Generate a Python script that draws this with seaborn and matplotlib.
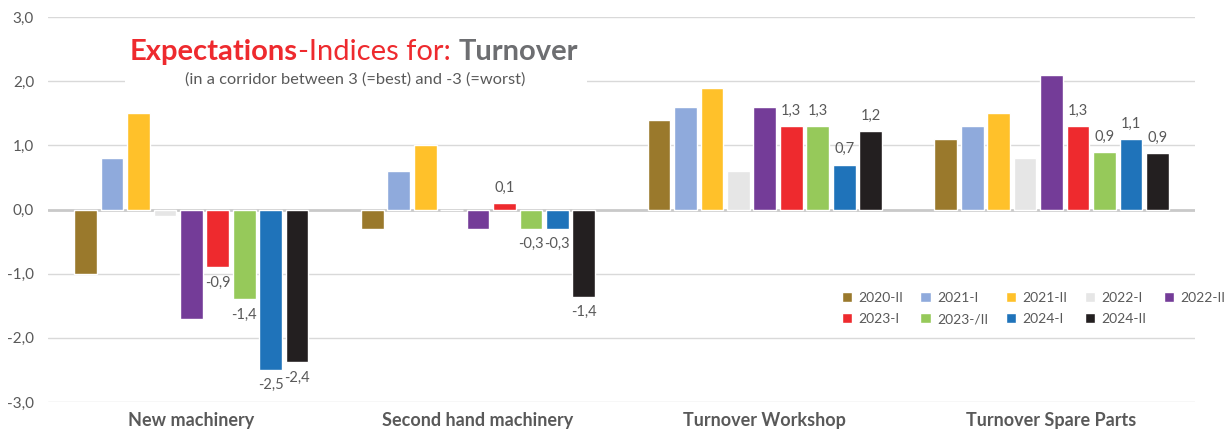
import pandas as pd
import seaborn as sns
import matplotlib.pyplot as plt
from matplotlib.patches import Patch, Rectangle
from matplotlib.ticker import FuncFormatter

# datos
categorias = ["New machinery", "Second hand machinery", "Turnover Workshop", "Turnover Spare Parts"]
periodos = ["2020-II", "2021-I", "2021-II", "2022-I", "2022-II",
            "2023-I", "2023-/II", "2024-I", "2024-II"]
colores = ["#9A792C", "#8FAADC", "#FFC12A", "#E6E6E6", "#743C98",
           "#EE2A2E", "#96C95A", "#1F73BA", "#231F20"]

new_machinery = [-1.0, 0.8, 1.5, -0.1, -1.7, -0.9, -1.4, -2.5, -2.38]
second_hand = [-0.3, 0.6, 1.0, 0.0, -0.3, 0.1, -0.3, -0.3, -1.36]
workshop = [1.4, 1.6, 1.9, 0.6, 1.6, 1.3, 1.3, 0.7, 1.22]
spare_parts = [1.1, 1.3, 1.5, 0.8, 2.1, 1.3, 0.9, 1.1, 0.88]

# solo se etiquetan las ultimas cuatro series
periodos_etiquetados = ["2023-I", "2023-/II", "2024-I", "2024-II"]

filas = []
for cat, vals in zip(categorias, [new_machinery, second_hand, workshop, spare_parts]):
    for per, v in zip(periodos, vals):
        filas.append({"categoria": cat, "periodo": per, "valor": v})
df = pd.DataFrame(filas)

gris = "#595959"
sns.set_style("white")
plt.rcParams["font.family"] = ["Lato", "DejaVu Sans"]

fig = plt.figure(figsize=(12.3, 4.33), dpi=100)
ax = fig.add_axes([0.039, 0.0716, 0.9325, 0.8891])

sns.barplot(data=df, x="categoria", y="valor", hue="periodo", order=categorias,
            hue_order=periodos, palette=colores, saturation=1, width=0.83,
            gap=0.14, ax=ax, legend=False, errorbar=None, zorder=2)

ax.set_ylim(-3, 3)
ax.set_xlim(-0.5, 3.5)
ax.set_yticks([-3, -2, -1, 0, 1, 2, 3])
ax.yaxis.set_major_formatter(FuncFormatter(lambda v, p: f"{v:.1f}".replace(".", ",")))
ax.grid(axis="y", color="#D9D9D9", linewidth=1)
ax.set_axisbelow(True)
ax.axhline(0, color="#C9C9C9", linewidth=2, zorder=1)
for s in ax.spines.values():
    s.set_visible(False)
ax.set_xlabel("")
ax.set_ylabel("")
ax.tick_params(axis="y", labelsize=11, labelcolor=gris, length=0, pad=10)
ax.tick_params(axis="x", labelsize=13, labelcolor=gris, length=0, pad=7)
for t in ax.get_xticklabels():
    t.set_fontweight("bold")

# etiquetas de valores
for per, cont in zip(periodos, ax.containers):
    if per in periodos_etiquetados:
        vals = df[df["periodo"] == per]["valor"].tolist()
        etiquetas = [f"{v:.1f}".replace(".", ",") for v in vals]
        ax.bar_label(cont, labels=etiquetas, padding=6, fontsize=10.5, color=gris)

# caja blanca detras del titulo
ax.add_patch(Rectangle((125 / 1230, 1 - 97 / 433), 462 / 1230, 68 / 433,
                       transform=fig.transFigure, facecolor="white",
                       edgecolor="none", zorder=1.5))

# titulo en tres partes
t1 = fig.text(130 / 1230, 1 - 60 / 433, "Expectations", color="#EE2A2E",
              fontsize=21, fontweight="bold")
t2 = ax.annotate("-Indices for: ", xy=(1, 0), xycoords=t1, va="bottom",
                 color="#EE2A2E", fontsize=21)
ax.annotate("Turnover", xy=(1, 0), xycoords=t2, va="bottom",
            color="#6D6E71", fontsize=21, fontweight="bold")
fig.text(355 / 1230, 1 - 80 / 433, "(in a corridor between 3 (=best) and -3 (=worst)",
         ha="center", va="center", color=gris, fontsize=11.8)

# leyenda
orden = [0, 5, 1, 6, 2, 7, 3, 8, 4]
handles = [Patch(facecolor=colores[i], label=periodos[i]) for i in orden]
fig.legend(handles=handles, loc="upper left", bbox_to_anchor=(829 / 1230, 1 - 279 / 433),
           ncol=5, frameon=False, fontsize=10, labelcolor=gris,
           handlelength=0.75, handleheight=0.75, handletextpad=0.45,
           columnspacing=1.25, labelspacing=0.7)

fig.savefig("out.png", dpi=100)
